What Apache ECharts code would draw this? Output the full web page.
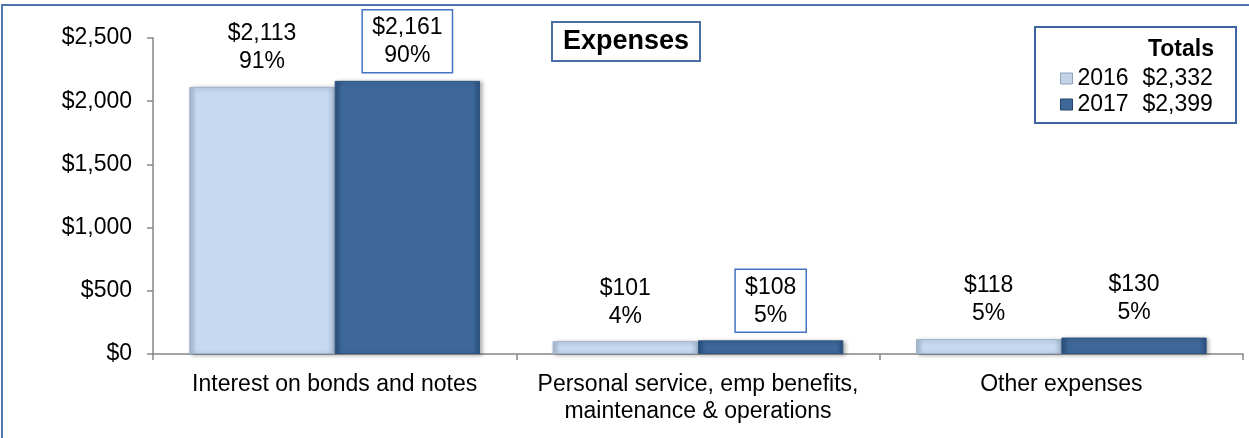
<html>
<head>
    <meta charset="utf-8" />
    <script src="https://cdn.jsdelivr.net/npm/echarts@6.0.0/dist/echarts.min.js"></script>
    <title>Expenses</title>
    <style>
        html, body { margin: 0; padding: 0; background: #fff; }
        #chart { width: 1249px; height: 438px; }
    </style>
</head>
<body>
    <div id="chart"></div>
    <script type="text/javascript">
        // data
        var categories = ['Interest on bonds and notes', 'Personal service, emp benefits,\nmaintenance & operations', 'Other expenses'];
        var years = ['2016', '2017'];
        var values2016 = [2113, 101, 118];
        var values2017 = [2161, 108, 130];
        var boxed2016 = [false, false, false];
        var boxed2017 = [true, true, false];
        var yTicks = [0, 500, 1000, 1500, 2000, 2500];

        var FONT = '"Liberation Sans", Arial, sans-serif';

        function sum(arr) {
            return arr.reduce(function (a, b) { return a + b; }, 0);
        }
        function money(v) {
            return '$' + v.toLocaleString('en-US');
        }

        var totals = [sum(values2016), sum(values2017)];

        function buildData(values, boxed, total, boxColor) {
            return values.map(function (v, i) {
                var item = { value: v, pct: Math.round(v / total * 100) };
                if (boxed[i]) {
                    item.label = { borderColor: boxColor, borderWidth: 1.5 };
                }
                return item;
            });
        }

        function bevel(edge, body) {
            return new echarts.graphic.LinearGradient(0, 0, 1, 0, [
                { offset: 0, color: edge },
                { offset: 0.05, color: body },
                { offset: 0.95, color: body },
                { offset: 1, color: edge }
            ]);
        }

        var labelStyle = {
            show: true,
            position: 'top',
            distance: 8,
            fontFamily: FONT,
            fontSize: 23,
            lineHeight: 28,
            color: '#000',
            padding: [4, 10, 3, 10],
            formatter: function (p) {
                return money(p.value) + '\n' + p.data.pct + '%';
            }
        };

        var chart = echarts.init(document.getElementById('chart'));
        var option = {
            backgroundColor: '#fff',
            animation: false,
            title: {
                text: 'Expenses',
                left: 552,
                top: 22,
                padding: [4, 11, 4, 11],
                borderColor: '#4a6fa5',
                borderWidth: 2,
                textStyle: {
                    fontFamily: FONT,
                    fontSize: 27,
                    fontWeight: 'bold',
                    lineHeight: 31,
                    color: '#000'
                }
            },
            legend: {
                data: [
                    { name: years[0], itemStyle: { color: bevel('#8fa3bd', '#c3d3e8'), borderColor: '#8fa3bd', borderWidth: 1 } },
                    { name: years[1], itemStyle: { color: bevel('#24436c', '#3d6899'), borderColor: '#24436c', borderWidth: 1 } }
                ],
                orient: 'vertical',
                left: 1060,
                top: 67,
                padding: 0,
                itemGap: 3,
                itemWidth: 12,
                itemHeight: 11,
                icon: 'rect',
                z: 5,
                textStyle: {
                    fontFamily: FONT,
                    fontSize: 23,
                    color: '#000',
                    rich: {
                        y: { fontFamily: FONT, fontSize: 23, width: 65, lineHeight: 27 },
                        v: { fontFamily: FONT, fontSize: 23, lineHeight: 27 }
                    }
                },
                formatter: function (name) {
                    return '{y|' + name + '}{v|' + money(totals[years.indexOf(name)]) + '}';
                }
            },
            graphic: [
                {
                    type: 'rect',
                    z: 0,
                    shape: { x: 2, y: 5, width: 1270, height: 500 },
                    style: { fill: 'none', stroke: '#4f78b0', lineWidth: 2 }
                },
                {
                    type: 'rect',
                    z: 1,
                    shape: { x: 1035, y: 27, width: 201, height: 96 },
                    style: { fill: '#fff', stroke: '#3b64a0', lineWidth: 2 }
                },
                {
                    type: 'text',
                    z: 2,
                    style: {
                        x: 1214,
                        y: 50,
                        text: 'Totals',
                        align: 'right',
                        verticalAlign: 'middle',
                        font: 'bold 23px ' + FONT,
                        fill: '#000'
                    }
                }
            ],
            grid: {
                left: 153,
                right: 6,
                top: 38,
                bottom: 84
            },
            xAxis: {
                type: 'category',
                data: categories,
                axisLine: { lineStyle: { color: '#868686', width: 1.5 } },
                axisTick: { show: true, length: 6, lineStyle: { color: '#868686', width: 1.5 } },
                axisLabel: {
                    interval: 0,
                    margin: 17,
                    fontFamily: FONT,
                    fontSize: 23,
                    lineHeight: 27,
                    color: '#000'
                }
            },
            yAxis: {
                type: 'value',
                min: yTicks[0],
                max: yTicks[yTicks.length - 1],
                interval: yTicks[1] - yTicks[0],
                splitLine: { show: false },
                axisLine: { show: true, lineStyle: { color: '#868686', width: 1.5 } },
                axisTick: { show: true, length: 6, lineStyle: { color: '#868686', width: 1.5 } },
                axisLabel: {
                    margin: 21,
                    fontFamily: FONT,
                    fontSize: 23,
                    color: '#000',
                    formatter: money
                }
            },
            series: [
                {
                    name: years[0],
                    type: 'bar',
                    barGap: '0%',
                    barCategoryGap: '20%',
                    data: buildData(values2016, boxed2016, totals[0], '#3d6ba5'),
                    itemStyle: {
                        color: bevel('#a7bad1', '#c6d9f0'),
                        borderColor: '#9fb4cc',
                        borderWidth: 1,
                        shadowColor: 'rgba(0,0,0,0.3)',
                        shadowBlur: 4,
                        shadowOffsetX: 2,
                        shadowOffsetY: 1
                    },
                    label: labelStyle
                },
                {
                    name: years[1],
                    type: 'bar',
                    barGap: '0%',
                    barCategoryGap: '20%',
                    data: buildData(values2017, boxed2017, totals[1], '#4472c4'),
                    itemStyle: {
                        color: bevel('#2b4f7e', '#3d6899'),
                        borderColor: '#2f5583',
                        borderWidth: 1,
                        shadowColor: 'rgba(0,0,0,0.3)',
                        shadowBlur: 4,
                        shadowOffsetX: 2,
                        shadowOffsetY: 1
                    },
                    label: labelStyle
                }
            ]
        };
        chart.setOption(option);
    </script>
</body>
</html>
